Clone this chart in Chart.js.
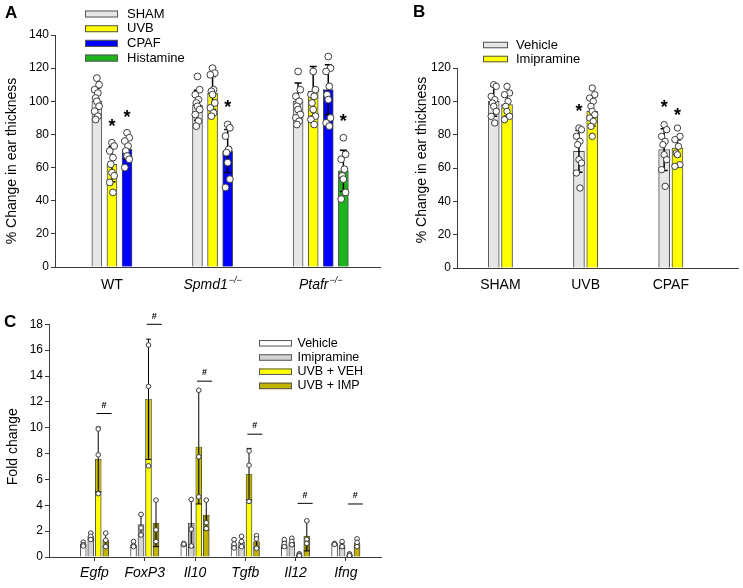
<!DOCTYPE html>
<html>
<head>
<meta charset="utf-8">
<title>Ear thickness and gene expression</title>
<script src="https://cdn.jsdelivr.net/npm/chart.js@4.4.1/dist/chart.umd.min.js"></script>
<style>
  html, body { margin: 0; padding: 0; background: #fff; }
  #fig { position: relative; width: 743px; height: 588px; overflow: hidden; }
  canvas { position: absolute; }
  .tag { position: absolute; font: bold 17px "Liberation Sans", Arial, sans-serif; line-height: 1; }
</style>
</head>
<body>
<div id="fig">
  <canvas id="chartA" width="385" height="300" style="left:0;top:0"></canvas>
  <canvas id="chartB" width="358" height="300" style="left:385px;top:0"></canvas>
  <canvas id="chartC" width="400" height="288" style="left:0;top:300px"></canvas>
  <div class="tag" style="left:5px;top:4px">A</div>
  <div class="tag" style="left:413px;top:3px">B</div>
  <div class="tag" style="left:4px;top:313px">C</div>
</div>
<script>
const FONT = '"Liberation Sans", Arial, Helvetica, sans-serif';
Chart.defaults.font.family = FONT;
Chart.defaults.color = '#000';
const AXIS = '#3a3a3a';

// ---- Panel A: % change in ear thickness by genotype ----
const groupsA = ['WT', 'Spmd1', 'Ptafr'];
const supsA = ['', '\u2212/\u2212', '\u2212/\u2212'];
const seriesA = ['SHAM', 'UVB', 'CPAF', 'Histamine'];
const shamA = [100, 97.6, 100];
const uvbA = [62, 105, 106];
const cpafA = [71, 70, 107];
const histA = [null, null, 58];
const shamSdA = [8, 9, 11];
const uvbSdA = [10.5, 10, 15];
const cpafSdA = [6, 13, 15];
const histSdA = [null, null, 12.5];
const shamPtsA = [[114, 110, 107, 105, 102, 100, 97, 94, 91, 89], [115, 107, 104, 101, 99, 97, 95, 92, 88, 85], [118, 107, 103, 100, 97, 95, 92, 90, 88, 86]];
const uvbPtsA = [[75, 73, 70, 66, 62, 57, 55, 51, 45], [120, 117, 116, 107, 106, 104, 99, 96, 93, 91], [118, 107, 104, 103, 99, 95, 91, 89, 86]];
const cpafPtsA = [[81, 78, 76, 73, 70, 67, 65, 60], [86, 84, 79, 71, 69, 63, 53, 48], [127, 120, 118, 109, 104, 101, 90, 87, 85]];
const histPtsA = [[], [], [78, 68, 65, 59, 55, 53, 45, 41]];
const starGroupA = [0, 0, 1, 2];
const starSeriesA = [1, 2, 2, 3];
const starValA = [88, 93, 99, 91];

// ---- Panel B: imipramine ----
const groupsB = ['SHAM', 'UVB', 'CPAF'];
const seriesB = ['Vehicle', 'Imipramine'];
const vehB = [100, 70, 71];
const impB = [98, 94, 72];
const vehSdB = [9, 12.5, 12.5];
const impSdB = [7, 9, 5];
const vehPtsB = [[110, 109, 103, 101, 99, 97, 94, 91, 87], [84, 83, 79, 76, 74, 65, 63, 57, 48], [86, 83, 79, 76, 74, 68, 65, 59, 49]];
const impPtsB = [[109, 105, 104, 100, 97, 94, 91, 89], [108, 104, 102, 100, 97, 94, 92, 90, 88, 85, 79], [84, 79, 77, 73, 69, 68, 62, 61]];
const starGroupB = [1, 2, 2];
const starSeriesB = [0, 0, 1];
const starValB = [97, 99, 94.5];

// ---- Panel C: fold change of genes ----
const groupsC = ['Egfp', 'FoxP3', 'Il10', 'Tgfb', 'Il12', 'Ifng'];
const seriesC = ['Vehicle', 'Imipramine', 'UVB + VEH', 'UVB + IMP'];
const vehC = [1.0, 0.95, 1.0, 1.0, 0.95, 1.03];
const impC = [1.6, 2.5, 2.6, 1.15, 1.15, 0.88];
const uvbVehC = [7.55, 12.2, 8.5, 6.4, 0.15, 0.15];
const uvbImpC = [1.3, 2.6, 3.25, 1.2, 1.62, 1.05];
const vehSdC = [0.15, 0.2, 0.05, 0.3, 0.25, 0.05];
const impSdC = [0.25, 0.8, 1.85, 0.4, 0.25, 0.2];
const uvbVehSdC = [2.5, 4.65, 4.4, 2.0, 0.08, 0.08];
const uvbImpSdC = [0.5, 1.8, 1.15, 0.5, 1.15, 0.3];
const vehPtsC = [[1.15, 0.95, 0.85], [1.2, 0.9, 0.8], [1.05, 0.95, 1.0], [1.35, 1.0, 0.7], [1.35, 1.05, 0.8], [1.05, 1.0, 0.98]];
const impPtsC = [[1.85, 1.6, 1.35], [3.3, 2.25, 1.7], [4.45, 2.15, 0.85], [1.6, 1.2, 0.8], [1.45, 1.2, 0.95], [1.2, 0.85, 0.8]];
const uvbVehPtsC = [[9.9, 7.9, 4.9], [16.4, 13.2, 7.05], [12.9, 7.75, 4.65], [8.2, 7.1, 4.3], [0.25, 0.15, 0.1], [0.25, 0.15, 0.1]];
const uvbImpPtsC = [[1.85, 1.3, 0.8], [4.4, 2.1, 1.2], [4.4, 2.65, 2.2], [1.65, 1.4, 0.67], [2.8, 1.37, 1.05], [1.4, 1.13, 0.8]];
const hashC = [11.1, 18.0, 13.6, 9.5, 4.15, 4.1];

// error bars (mean +/- SD), drawn right after each bar dataset so points sit on top
const errorBars = {
  id: 'errorBars',
  afterDatasetDraw(chart, args, o) {
    const ds = chart.data.datasets[args.index];
    if (!ds.errSD) return;
    const ys = chart.scales.y, ctx = chart.ctx;
    args.meta.data.forEach((bar, i) => {
      const sd = ds.errSD[i];
      if (sd == null) return;
      const m = ds.data[i].y;
      const yTop = ys.getPixelForValue(m + sd);
      const yLow = ys.getPixelForValue(Math.max(m - sd, 0));
      const yMid = ys.getPixelForValue(m);
      ctx.save();
      if (ds.band) {
        ctx.fillStyle = ds.band;
        ctx.fillRect(bar.x - bar.width / 2 + 1, yMid, bar.width - 2, yLow - yMid);
      }
      ctx.strokeStyle = '#000';
      ctx.lineWidth = o.width;
      const low = o.lowCap === 'bar' ? bar.width : o.cap;
      ctx.beginPath();
      ctx.moveTo(bar.x, yTop); ctx.lineTo(bar.x, yLow);
      ctx.moveTo(bar.x - o.cap / 2, yTop); ctx.lineTo(bar.x + o.cap / 2, yTop);
      ctx.moveTo(bar.x - low / 2, yLow); ctx.lineTo(bar.x + low / 2, yLow);
      ctx.stroke();
      ctx.restore();
    });
  }
};

// legend with flat wide boxes, one entry per bar dataset
const boxLegend = {
  id: 'boxLegend',
  afterDraw(chart, args, o) {
    const ctx = chart.ctx;
    const bars = chart.data.datasets.filter(d => d.type === 'bar');
    ctx.save();
    ctx.font = o.font;
    ctx.textBaseline = 'middle';
    bars.forEach((d, i) => {
      const cy = o.y + i * o.row;
      ctx.fillStyle = d.backgroundColor;
      ctx.fillRect(o.x, cy - o.boxH / 2, o.boxW, o.boxH);
      ctx.strokeStyle = '#555';
      ctx.lineWidth = 1;
      ctx.strokeRect(o.x + 0.5, cy - o.boxH / 2 + 0.5, o.boxW - 1, o.boxH - 1);
      ctx.fillStyle = '#000';
      ctx.fillText(d.label, o.textX, cy);
    });
    ctx.restore();
  }
};

const yTitle = {
  id: 'yTitle',
  afterDraw(chart, args, o) {
    const ctx = chart.ctx, a = chart.chartArea;
    ctx.save();
    ctx.translate(o.x, (a.top + a.bottom) / 2 + o.shift);
    ctx.rotate(-Math.PI / 2);
    ctx.font = o.font;
    ctx.textAlign = 'center';
    ctx.textBaseline = 'middle';
    ctx.fillStyle = '#000';
    ctx.fillText(o.text, 0, 0);
    ctx.restore();
  }
};

// asterisks / hash signs with optional bar under them
const sigMarks = {
  id: 'sigMarks',
  afterDraw(chart, args, o) {
    const ctx = chart.ctx, xs = chart.scales.x, ys = chart.scales.y;
    ctx.save();
    ctx.fillStyle = '#000';
    ctx.strokeStyle = '#000';
    ctx.lineWidth = 1;
    ctx.font = o.font;
    ctx.textAlign = 'center';
    ctx.textBaseline = 'alphabetic';
    o.items.forEach(it => {
      const px = xs.getPixelForValue(it.x), py = ys.getPixelForValue(it.y);
      if (o.line) {
        ctx.beginPath();
        ctx.moveTo(px - o.line / 2, py); ctx.lineTo(px + o.line / 2, py);
        ctx.stroke();
        ctx.fillText(o.text, px, py - o.lift + o.dy);
      } else {
        ctx.fillText(o.text, px, py + o.dy);
      }
    });
    ctx.restore();
  }
};

// genotype labels with superscript -/-
const genoLabels = {
  id: 'genoLabels',
  afterDraw(chart, args, o) {
    const ctx = chart.ctx, xs = chart.scales.x;
    const y = xs.top + o.dy;
    ctx.save();
    ctx.fillStyle = '#000';
    ctx.textBaseline = 'middle';
    ctx.textAlign = 'left';
    o.labels.forEach((lab, i) => {
      const main = (o.sups[i] ? 'italic ' : '') + o.size + 'px ' + FONT;
      const sup = 'italic ' + o.supSize + 'px ' + FONT;
      ctx.font = main;
      const w1 = ctx.measureText(lab).width;
      ctx.font = sup;
      const w2 = o.sups[i] ? ctx.measureText(o.sups[i]).width + 1 : 0;
      const x = xs.getPixelForValue(o.at[i]) - (w1 + w2) / 2;
      ctx.font = main;
      ctx.fillText(lab, x, y);
      if (o.sups[i]) {
        ctx.font = sup;
        ctx.fillText(o.sups[i], x + w1 + 1, y - 5);
      }
    });
    ctx.restore();
  }
};

function barPanel(id, p) {
  const xOf = (g, s) => g + (s + p.start) * p.slot;
  const datasets = [];
  p.means.forEach((vals, s) => {
    const data = [], sd = [];
    vals.forEach((v, g) => {
      if (v === null) return;
      data.push({ x: xOf(g, s), y: v });
      sd.push(p.sds[s][g]);
    });
    datasets.push({
      type: 'bar', label: p.series[s], data, errSD: sd, band: p.bands ? p.bands[s] : null,
      backgroundColor: p.colors[s], borderColor: '#4d4d4d', borderWidth: 1,
      barThickness: p.barW, grouped: false, order: 2
    });
  });
  p.points.forEach((perGroup, s) => {
    const data = [];
    perGroup.forEach((vals, g) => vals.forEach((v, k) => {
      data.push({ x: xOf(g, s) + p.jitter[k % p.jitter.length], y: v });
    }));
    datasets.push({
      type: 'scatter', data, order: 0, pointRadius: p.r, pointHoverRadius: p.r,
      pointBackgroundColor: '#fff', pointBorderColor: '#3c3c3c', pointBorderWidth: 1
    });
  });
  const centers = p.groups.map((_, g) => {
    const n = p.means.filter(m => m[g] !== null).length;
    return g + (p.start + (n - 1) / 2) * p.slot;
  });
  const marks = Object.assign({}, p.marks, {
    items: p.marks.items.map(it => ({ x: it.s === undefined ? it.g + p.marks.shiftX : xOf(it.g, it.s), y: it.y }))
  });
  const xlab = p.xlab ? Object.assign({ at: centers }, p.xlab) : false;

  return new Chart(document.getElementById(id), {
    type: 'bar',
    data: { datasets },
    options: {
      responsive: false,
      animation: false,
      events: [],
      layout: { padding: p.pad },
      plugins: {
        legend: { display: false },
        tooltip: { enabled: false },
        errorBars: p.err,
        boxLegend: p.legend,
        yTitle: p.title,
        sigMarks: marks,
        genoLabels: xlab
      },
      scales: {
        x: {
          type: 'linear', min: p.xMin, max: p.xMax, offset: false,
          afterBuildTicks: s => { s.ticks = centers.map(v => ({ value: v })); },
          afterFit: s => { s.height = p.xH; },
          grid: { display: p.xTicks, drawOnChartArea: false, drawTicks: p.xTicks, tickLength: 4, color: AXIS, offset: false },
          border: { display: true, color: AXIS, width: 1 },
          ticks: {
            display: p.xLabels, autoSkip: false, maxRotation: 0, padding: p.xPad,
            font: { size: 14, style: p.xItalic ? 'italic' : 'normal' },
            callback: (v, i) => p.groups[i]
          }
        },
        y: {
          min: 0, max: p.yMax,
          afterFit: s => { s.width = p.yW; },
          grid: { display: true, drawOnChartArea: false, drawTicks: true, tickLength: 4, color: AXIS },
          border: { display: true, color: AXIS, width: 1 },
          ticks: { stepSize: p.yStep, padding: 2, font: { size: 12 } }
        }
      }
    },
    plugins: [errorBars, boxLegend, yTitle, sigMarks, genoLabels]
  });
}

barPanel('chartA', {
  groups: groupsA, series: seriesA,
  colors: ['#e6e6e6', '#ffff00', '#0000ff', '#1db31d'],
  means: [shamA, uvbA, cpafA, histA],
  sds: [shamSdA, uvbSdA, cpafSdA, histSdA],
  points: [shamPtsA, uvbPtsA, cpafPtsA, histPtsA],
  start: 0, slot: 0.15, xMin: -0.416, xMax: 2.82, barW: 10, r: 3.4,
  jitter: [0, 0.022, -0.022, 0.01, -0.012],
  yMax: 140, yStep: 20, yW: 55, xH: 33,
  xTicks: false, xLabels: false, xPad: 0,
  pad: { left: 0, top: 35, right: 3, bottom: 0 },
  err: { width: 1.5, cap: 7, lowCap: 'cap' },
  legend: { x: 85, y: 14, row: 14.7, boxW: 33, boxH: 7, textX: 127, font: '13px ' + FONT },
  title: { text: '% Change in ear thickness', x: 12.5, shift: 10, font: '14px ' + FONT },
  marks: { text: '*', font: 'bold 18px ' + FONT, dy: 10.4,
    items: starGroupA.map((g, i) => ({ g, s: starSeriesA[i], y: starValA[i] })) },
  xlab: { labels: groupsA, sups: supsA, dy: 18, size: 14, supSize: 9 }
});

barPanel('chartB', {
  groups: groupsB, series: seriesB,
  colors: ['#e6e6e6', '#ffff00'],
  means: [vehB, impB],
  sds: [vehSdB, impSdB],
  points: [vehPtsB, impPtsB],
  start: -0.5, slot: 0.156, xMin: -0.509, xMax: 2.798, barW: 11, r: 3.2,
  jitter: [0, 0.03, -0.03, 0.012, -0.015],
  yMax: 120, yStep: 20, yW: 47, xH: 32,
  xTicks: false, xLabels: true, xPad: 9, xItalic: false,
  pad: { left: 25, top: 68, right: 0, bottom: 0 },
  err: { width: 1.5, cap: 7, lowCap: 'cap' },
  legend: { x: 98, y: 45, row: 14, boxW: 25, boxH: 6.5, textX: 131, font: '13px ' + FONT },
  title: { text: '% Change in ear thickness', x: 37, shift: -8, font: '14px ' + FONT },
  marks: { text: '*', font: 'bold 18px ' + FONT, dy: 10.4,
    items: starGroupB.map((g, i) => ({ g, s: starSeriesB[i], y: starValB[i] })) }
});

barPanel('chartC', {
  groups: groupsC, series: seriesC,
  colors: ['#ffffff', '#d4d4d4', '#ffff00', '#bfb300'],
  bands: ['#d0d0d0', '#a6a6a6', '#bdb300', '#8c8400'],
  means: [vehC, impC, uvbVehC, uvbImpC],
  sds: [vehSdC, impSdC, uvbVehSdC, uvbImpSdC],
  points: [vehPtsC, impPtsC, uvbVehPtsC, uvbImpPtsC],
  start: -1.5, slot: 0.149, xMin: -0.905, xMax: 5.70, barW: 6, r: 2.3,
  jitter: [0],
  yMax: 18, yStep: 2, yW: 49, xH: 31,
  xTicks: true, xLabels: true, xPad: 4, xItalic: true,
  pad: { left: 0, top: 24.3, right: 19, bottom: 0 },
  err: { width: 1, cap: 5, lowCap: 'bar' },
  legend: { x: 259, y: 43.3, row: 14.2, boxW: 33, boxH: 6.5, textX: 297.5, font: '12.5px ' + FONT },
  title: { text: 'Fold change', x: 13, shift: 6, font: '14px ' + FONT },
  marks: { text: '#', font: 'bold 9px ' + FONT, dy: 3.2, line: 15, lift: 9, shiftX: 0.19,
    items: hashC.map((y, g) => ({ g, y })) }
});
</script>
</body>
</html>
